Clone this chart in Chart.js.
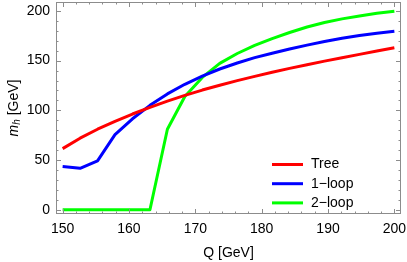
<!DOCTYPE html>
<html lang="en">
<head>
    <meta charset="UTF-8">
    <title>Higgs mass vs Q</title>
    <style>
        body { margin: 0; background: #fff; }
        canvas { display: block; }
    </style>
</head>
<body>
<canvas id="mh" width="407" height="262"></canvas>

<script src="https://cdn.jsdelivr.net/npm/chart.js@4.4.1/dist/chart.umd.min.js"></script>
<script>
// sample points (GeV) and the three mass curves
const qValues = [150, 152.63, 155.26, 157.89, 160.53, 163.16, 165.79, 168.42, 171.05, 173.68,
                 176.32, 178.95, 181.58, 184.21, 186.84, 189.47, 192.11, 194.74, 197.37, 200];
const treeMass = [61.5, 72, 81, 89, 96.3, 103, 109.3, 115, 120.4, 125.3,
                  129.9, 134.2, 138.3, 142.2, 145.9, 149.5, 152.9, 156.3, 159.6, 162.9];
const oneLoopMass = [43.4, 41.7, 49.2, 75.5, 91.5, 105, 116.5, 126.2, 134.5, 141.6,
                     147.6, 153, 157.5, 161.7, 165.6, 169.3, 172.5, 175.2, 177.5, 179.6];
const twoLoopMass = [0, 0, 0, 0, 0, 0, 81, 114, 133.1, 147.2,
                     157.2, 165.4, 172.2, 178.3, 183.8, 188.4, 192, 195, 197.6, 199.8];

const seriesLabels = ["Tree", "1\u2212loop", "2\u2212loop"];
const xTicks = [150, 160, 170, 180, 190, 200];
const yTicks = [0, 50, 100, 150, 200];

const font = "'Liberation Sans', Arial, sans-serif";

const toPoints = ys => qValues.map((q, i) => ({ x: q, y: ys[i] }));

// Mathematica-like frame with inward ticks on all four sides
const framePlugin = {
    id: "frame",
    afterDatasetsDraw(chart) {
        const { ctx, chartArea: a, scales: { x, y } } = chart;
        ctx.save();
        ctx.strokeStyle = "#8c8c8c";
        ctx.lineWidth = 1;
        ctx.strokeRect(a.left + 0.5, a.top + 0.5, a.right - a.left - 1, a.bottom - a.top - 1);
        ctx.beginPath();
        for (let v = 150; v <= 200; v += 2) {
            const px = Math.round(x.getPixelForValue(v)) + 0.5;
            const len = v % 10 === 0 ? 5 : 2.5;
            ctx.moveTo(px, a.bottom); ctx.lineTo(px, a.bottom - len);
            ctx.moveTo(px, a.top); ctx.lineTo(px, a.top + len);
        }
        for (let v = 0; v <= 200; v += 10) {
            const py = Math.round(y.getPixelForValue(v)) + 0.5;
            const len = v % 50 === 0 ? 5 : 2.5;
            ctx.moveTo(a.left, py); ctx.lineTo(a.left + len, py);
            ctx.moveTo(a.right, py); ctx.lineTo(a.right - len, py);
        }
        ctx.stroke();
        ctx.restore();
    },
    afterDraw(chart) {
        const { ctx, chartArea: a } = chart;
        ctx.save();
        // y axis title: italic m with subscript h
        ctx.translate(14, (a.top + a.bottom) / 2);
        ctx.rotate(-Math.PI / 2);
        ctx.fillStyle = "#000";
        ctx.textBaseline = "middle";
        const parts = [
            { t: "m", f: "italic 14px " + font, dy: 0 },
            { t: "h", f: "italic 10px " + font, dy: 3 },
            { t: " [GeV]", f: "14px " + font, dy: 0 },
        ];
        let w = 0;
        parts.forEach(p => { ctx.font = p.f; w += ctx.measureText(p.t).width; });
        let cx = -w / 2;
        parts.forEach(p => {
            ctx.font = p.f;
            ctx.fillText(p.t, cx, p.dy);
            cx += ctx.measureText(p.t).width;
        });
        ctx.restore();

        // legend in the lower right corner of the plot
        ctx.save();
        ctx.font = "14px " + font;
        ctx.textBaseline = "middle";
        chart.data.datasets.forEach((ds, i) => {
            const ly = 164.5 + i * 19.2;
            ctx.strokeStyle = ds.borderColor;
            ctx.lineWidth = 3;
            ctx.beginPath();
            ctx.moveTo(272, ly);
            ctx.lineTo(303, ly);
            ctx.stroke();
            ctx.fillStyle = "#000";
            ctx.fillText(ds.label, 311, ly);
        });
        ctx.restore();
    },
};

new Chart("mh", {
    type: "line",
    data: {
        datasets: [
            { label: seriesLabels[0], data: toPoints(treeMass), borderColor: "#ff0000" },
            { label: seriesLabels[1], data: toPoints(oneLoopMass), borderColor: "#0000ff" },
            { label: seriesLabels[2], data: toPoints(twoLoopMass), borderColor: "#00ff00" },
        ],
    },
    options: {
        responsive: false,
        animation: false,
        layout: { padding: { top: 2, right: 6, left: 0, bottom: 0 } },
        elements: {
            point: { radius: 0 },
            line: { borderWidth: 3, tension: 0, borderJoinStyle: "round", fill: false },
        },
        plugins: {
            legend: { display: false },
            tooltip: { enabled: false },
        },
        scales: {
            x: {
                type: "linear",
                min: 149,
                max: 201,
                afterBuildTicks: s => { s.ticks = xTicks.map(v => ({ value: v })); },
                afterFit: s => { s.height = 48; s.paddingLeft = 0; s.paddingRight = 0; },
                grid: { display: false, drawTicks: false },
                border: { display: false },
                ticks: { color: "#000", font: { family: font, size: 14 }, padding: 7, maxRotation: 0 },
                title: {
                    display: true,
                    text: "Q [GeV]",
                    color: "#000",
                    font: { family: font, size: 14 },
                    padding: { top: 0, bottom: 0 },
                },
            },
            y: {
                min: -4.3,
                max: 209,
                afterBuildTicks: s => { s.ticks = yTicks.map(v => ({ value: v })); },
                afterFit: s => { s.width = 56; s.paddingTop = 0; s.paddingBottom = 0; },
                grid: { display: false, drawTicks: false },
                border: { display: false },
                ticks: { color: "#000", font: { family: font, size: 14 }, padding: 6 },
            },
        },
    },
    plugins: [framePlugin],
});
</script>
</body>
</html>
